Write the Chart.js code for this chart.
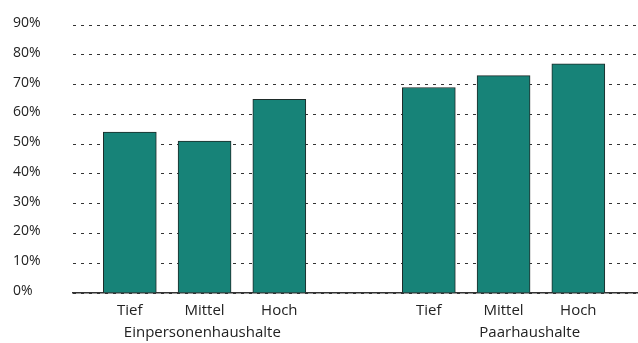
<!DOCTYPE html>
<html>
<head>
<meta charset="utf-8">
<script src="https://cdn.jsdelivr.net/npm/chart.js@4/dist/chart.umd.min.js"></script>
<style>
  html, body { margin: 0; padding: 0; background: #fff; }
  canvas { display: block; }
</style>
</head>
<body>
<canvas id="haushaltChart" width="638" height="343"></canvas>
<script>
const levels = ['Tief', 'Mittel', 'Hoch'];
const groups = ['Einpersonenhaushalte', 'Paarhaushalte'];
const einpersonen = [54, 51, 65];
const paare = [69, 73, 77];
const yMax = 90;
const yStep = 10;

// one slot per bar, an empty slot between the two household groups
const slotsPerGroup = levels.length + 1;
const points = [];
[einpersonen, paare].forEach((values, g) => {
    values.forEach((v, i) => points.push({ x: g * slotsPerGroup + i, y: v }));
});

// group names under the level labels
const groupLabels = {
    id: 'groupLabels',
    afterDraw(chart) {
        const ctx = chart.ctx;
        const x = chart.scales.x;
        const centers = [0.97, 5.35];
        ctx.save();
        ctx.font = '15px "Open Sans"';
        ctx.fillStyle = '#222';
        ctx.textAlign = 'center';
        ctx.textBaseline = 'middle';
        groups.forEach((name, g) => {
            ctx.fillText(name, x.getPixelForValue(centers[g]), 333);
        });
        ctx.restore();
    }
};

const ctx = document.getElementById('haushaltChart').getContext('2d');
new Chart(ctx, {
    type: 'bar',
    data: {
        datasets: [{
            data: points,
            backgroundColor: '#178378',
            borderColor: '#1e2b29',
            borderWidth: 1,
            borderSkipped: 'bottom',
            barThickness: 53
        }]
    },
    options: {
        responsive: false,
        animation: false,
        layout: { padding: { top: 25, left: 13, right: 1, bottom: 0 } },
        plugins: {
            legend: { display: false },
            tooltip: { enabled: false }
        },
        scales: {
            x: {
                type: 'linear',
                offset: false,
                min: -0.76,
                max: 6.785,
                afterFit(scale) { scale.height = 50; },
                grid: { display: false, offset: false },
                border: { display: true, color: '#333', width: 1.5 },
                ticks: {
                    stepSize: 1,
                    includeBounds: false,
                    autoSkip: false,
                    maxRotation: 0,
                    padding: 1,
                    color: '#222',
                    font: { family: 'Open Sans', size: 15 },
                    callback: value => {
                        const i = value % slotsPerGroup;
                        return Number.isInteger(value) && i < levels.length ? levels[i] : '';
                    }
                }
            },
            y: {
                min: 0,
                max: yMax,
                afterFit(scale) { scale.width = 60; },
                grid: { color: '#333', lineWidth: 1, drawTicks: false },
                border: { display: false, dash: [3, 5] },
                ticks: {
                    stepSize: yStep,
                    crossAlign: 'far',
                    labelOffset: -2,
                    color: '#222',
                    font: { family: 'Open Sans', size: 14, weight: '500' },
                    callback: value => value + '%'
                }
            }
        }
    },
    plugins: [groupLabels]
});
</script>
</body>
</html>
